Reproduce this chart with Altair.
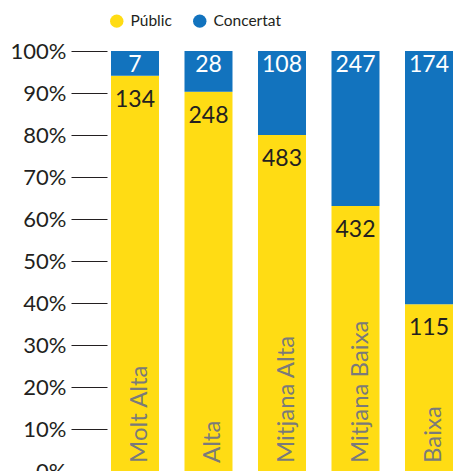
import altair as alt
import pandas as pd

categories = ["Molt Alta", "Alta", "Mitjana Alta", "Mitjana Baixa", "Baixa"]
public_n = [134, 248, 483, 432, 115]
concertat_n = [7, 28, 108, 247, 174]
public_pct = [94.1, 90.3, 80.0, 63.1, 39.7]
concertat_pct = [5.9, 9.7, 20.0, 36.9, 60.3]
series = ["Públic", "Concertat"]
colors = ["#FFDC14", "#1273BE"]
y_ticks = [0, 10, 20, 30, 40, 50, 60, 70, 80, 90, 100]

rows = []
for i, c in enumerate(categories):
    rows.append({"cat": c, "serie": "Públic", "ord": 0, "pct": public_pct[i], "n": public_n[i]})
    rows.append({"cat": c, "serie": "Concertat", "ord": 1, "pct": concertat_pct[i], "n": concertat_n[i]})
df = pd.DataFrame(rows)

FONT = "Lato"

x_enc = alt.X("cat:N", sort=categories, axis=None,
              scale=alt.Scale(range=[4, 346], paddingInner=0.347, paddingOuter=0))
y_scale = alt.Scale(domain=[0, 100], nice=False)

base = alt.Chart(df)

bars = base.mark_bar().encode(
    x=x_enc,
    y=alt.Y("pct:Q", stack="zero", scale=y_scale,
            axis=alt.Axis(values=y_ticks, labelExpr="datum.value + '%'", title=None,
                          tickSize=36, tickColor="#231F20", tickWidth=1, domain=False, grid=False,
                          labelFontSize=22, labelColor="#231F20", labelFont=FONT, labelPadding=5)),
    color=alt.Color("serie:N", sort=series,
                    scale=alt.Scale(domain=series, range=colors),
                    legend=alt.Legend(title=None, orient="none", direction="horizontal",
                                      legendX=2, legendY=-38, symbolType="circle", symbolSize=180,
                                      symbolStrokeWidth=0, labelFontSize=15.5, labelFont=FONT,
                                      labelColor="#231F20", columnPadding=20, labelOffset=6)),
    order=alt.Order("ord:Q"),
)

pub_text = base.transform_filter(alt.datum.serie == "Públic").mark_text(
    fontSize=23, font=FONT, color="#231F20", baseline="middle", dy=24
).encode(
    x=x_enc,
    y=alt.Y("pct:Q", scale=y_scale),
    text="n:Q",
)

conc_text = base.transform_filter(alt.datum.serie == "Concertat").mark_text(
    fontSize=23, font=FONT, color="white", baseline="middle", dy=14
).encode(
    x=x_enc,
    y=alt.datum(100),
    text="n:Q",
)

cat_text = base.transform_filter(alt.datum.serie == "Públic").mark_text(
    fontSize=24, font=FONT, color="#7A7A7A", angle=270, align="left", baseline="middle", dx=8, dy=5
).encode(
    x=x_enc,
    y=alt.datum(0),
    text="cat:N",
)

chart = alt.layer(bars, pub_text, conc_text, cat_text).properties(
    width=347, height=420,
    autosize=alt.AutoSizeParams(type="none"),
    padding={"left": 107, "top": 51, "right": 0, "bottom": 0},
).configure_view(stroke=None)

chart.save("out.html", embed_options={"renderer": "svg", "actions": False})
